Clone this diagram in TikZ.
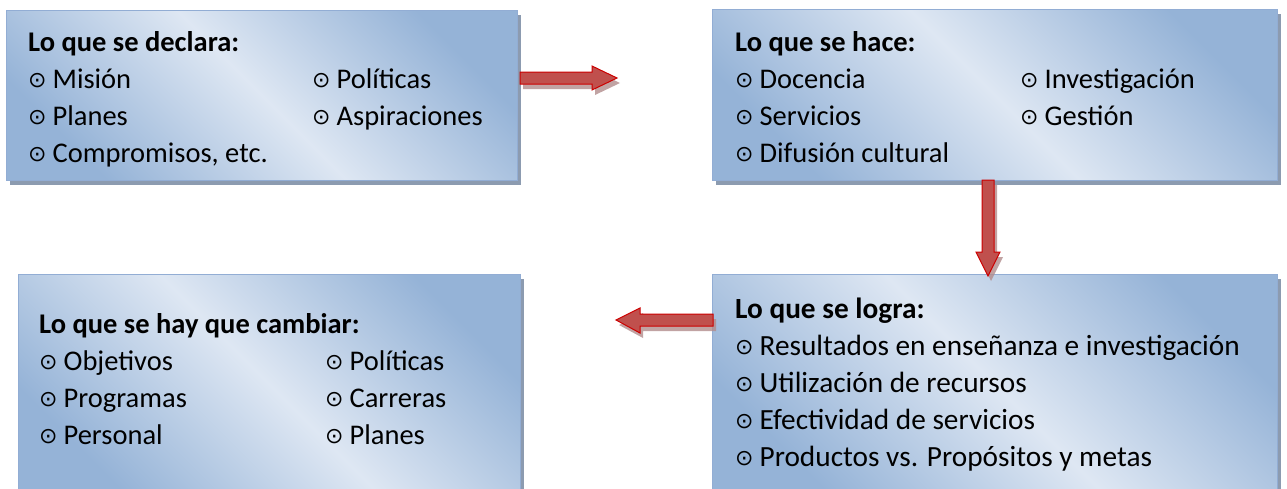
\documentclass[tikz,border=0pt]{standalone}
\usepackage{fontspec}
\setmainfont{Carlito}
\newfontfamily\symfont{DejaVu Sans}
\usetikzlibrary{shadows}
\definecolor{boxdark}{RGB}{149,179,215}
\definecolor{boxlight}{RGB}{222,231,243}
\definecolor{boxline}{RGB}{146,173,212}
\definecolor{boxshadow}{RGB}{140,155,176}
\definecolor{arrowfill}{RGB}{192,80,77}
\definecolor{arrowline}{RGB}{204,0,0}
\definecolor{arrowshadow}{RGB}{178,140,140}
\newcommand\Bul{{\symfont\fontsize{22}{22}\selectfont\raisebox{0.5pt}{⊙}}\hspace{6pt}}
\newcommand\Head[1]{\multicolumn{2}{@{}l@{}}{\textbf{#1}}}
\tikzset{
    panel/.style={draw=boxline, line width=1pt, anchor=north west,
        top color=boxdark, bottom color=boxdark, middle color=boxlight, shading angle=-45,
        drop shadow={shadow xshift=3pt, shadow yshift=-4pt, fill=boxshadow, opacity=1}},
    panetext/.style={anchor=base west, inner sep=0pt, font=\fontsize{28.5}{37}\selectfont},
    blockarrow/.style={fill=arrowfill, draw=arrowline, line width=1pt, line join=miter,
        drop shadow={shadow xshift=3pt, shadow yshift=-5pt, fill=arrowshadow, opacity=0.8}}
}
\begin{document}
\begin{tikzpicture}[x=1pt,y=-1pt]
    \useasboundingbox (0,0) rectangle (1287,488);
    % panels
    \node[panel, minimum width=511pt, minimum height=170pt] (declara) at (6,10) {};
    \node[panel, minimum width=565pt, minimum height=171pt] (hace) at (712,9) {};
    \node[panel, minimum width=502pt, minimum height=220pt] (cambiar) at (18,274) {};
    \node[panel, minimum width=565pt, minimum height=220pt] (logra) at (712,274) {};
    % texts
    \node[panetext] (declaraText) at (28,51) {\begin{tabular}[t]{@{}p{284pt}@{}l@{}}
        \Head{Lo que se declara:} \\
        \Bul Misión & \Bul Políticas \\
        \Bul Planes & \Bul Aspiraciones \\
        \Bul Compromisos, etc. & \\
    \end{tabular}};
    \node[panetext] (haceText) at (735,51) {\begin{tabular}[t]{@{}p{285pt}@{}l@{}}
        \Head{Lo que se hace:} \\
        \Bul Docencia & \Bul Investigación \\
        \Bul Servicios & \Bul Gestión \\
        \Bul Difusión cultural & \\
    \end{tabular}};
    \node[panetext] (cambiarText) at (39,333) {\begin{tabular}[t]{@{}p{286pt}@{}l@{}}
        \Head{Lo que se hay que cambiar:} \\
        \Bul Objetivos & \Bul Políticas \\
        \Bul Programas & \Bul Carreras \\
        \Bul Personal & \Bul Planes \\
    \end{tabular}};
    \node[panetext, font=\fontsize{29.3}{37}\selectfont] (lograText) at (735,318) {\begin{tabular}[t]{@{}l@{}}
        \textbf{Lo que se logra:} \\
        \Bul Resultados en enseñanza e investigación \\
        \Bul Utilización de recursos \\
        \Bul Efectividad de servicios \\
        \Bul Productos vs. Propósitos y metas \\
    \end{tabular}};
    % arrows
    \draw[blockarrow] (520,72) -- (592,72) -- (592,66) -- (617,78) -- (592,90) -- (592,84) -- (520,84) -- cycle;
    \draw[blockarrow] (982,180) -- (994,180) -- (994,252) -- (1000,252) -- (988,276) -- (976,252) -- (982,252) -- cycle;
    \draw[blockarrow] (713,314) -- (640,314) -- (640,308) -- (616,320) -- (640,333) -- (640,326) -- (713,326) -- cycle;
\end{tikzpicture}
\end{document}
